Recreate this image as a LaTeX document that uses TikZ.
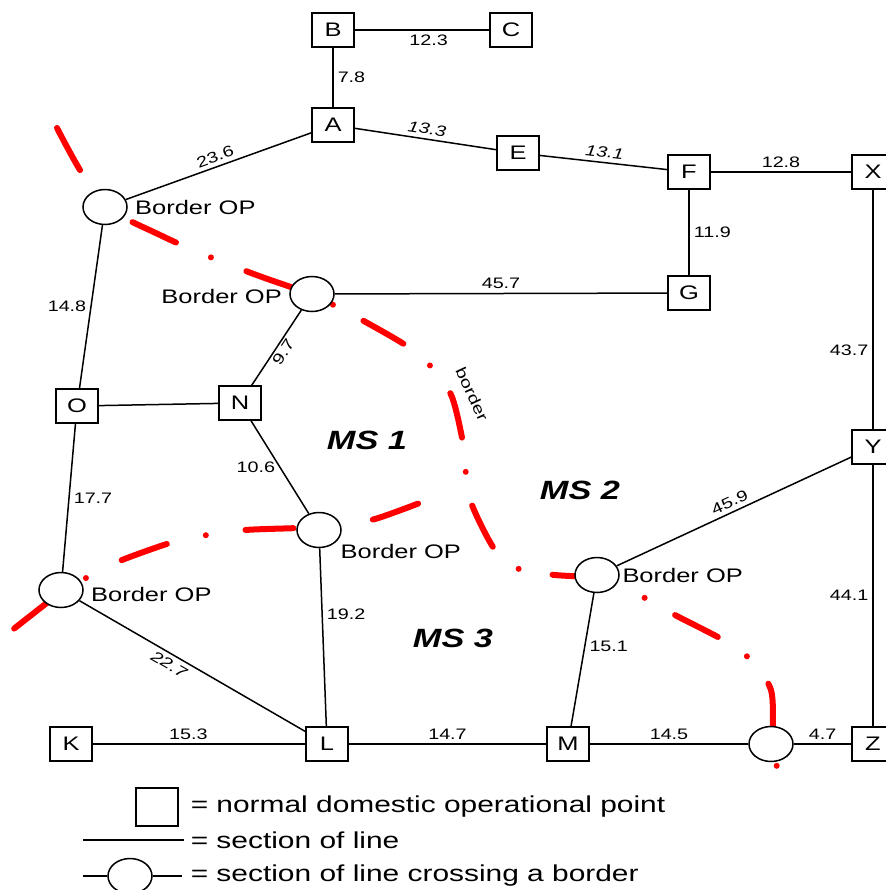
\documentclass[tikz,border=0pt]{standalone}
\usepackage{fontspec}
\setmainfont{Liberation Sans}[FakeStretch=1.3]
\usepackage{tikz}
\usetikzlibrary{shapes.geometric,backgrounds}
\definecolor{borderred}{RGB}{255,0,0}
\newcommand{\opfont}{\fontsize{9.8}{11}\selectfont}
\newcommand{\kmfont}{\fontsize{7.6}{9}\selectfont}
\newcommand{\msfont}{\fontsize{13.2}{15}\selectfont\bfseries\itshape}
\newcommand{\legfont}{\fontsize{11.5}{14}\selectfont}

\begin{document}
\begin{tikzpicture}[
  x=0.5pt,y=-0.5pt,
  line width=0.75pt,
  op/.style={draw,fill=white,minimum width=21pt,minimum height=17pt,
    inner sep=0pt,font=\opfont},
  bop/.style={draw,ellipse,fill=white,minimum width=22pt,minimum height=17.5pt,
    inner sep=0pt},
  km/.style={font=\kmfont,inner sep=2pt},
  kmit/.style={font=\kmfont\itshape,inner sep=2pt},
  ms/.style={font=\msfont},
  legtxt/.style={font=\legfont,anchor=west,inner sep=0pt},
  borderline/.style={borderred,line width=3pt,line cap=round},
  every label/.append style={font=\opfont},
]
  \useasboundingbox (0,0) rectangle (885,890);

  \node[op] (B) at (333,30) {B};
  \node[op] (C) at (511,30) {C};
  \node[op] (A) at (333,125) {A};
  \node[op] (E) at (518,153) {E};
  \node[op] (F) at (689,172) {F};
  \node[op] (X) at (873,172) {X};
  \node[op] (G) at (689,293) {G};
  \node[op] (O) at (77,406) {O};
  \node[op] (N) at (240,403) {N};
  \node[op] (Y) at (873,447) {Y};
  \node[op] (K) at (71,744) {K};
  \node[op] (L) at (327,744) {L};
  \node[op] (M) at (568,744) {M};
  \node[op] (Z) at (873,744) {Z};

  \node[bop,label={right:Border OP}] (bop1) at (105,207) {};
  \node[bop,label={[yshift=-1pt]left:Border OP}] (bop2) at (312,294) {};
  \node[bop,label={[yshift=3.5pt]below right:Border OP}] (bop3) at (319,530) {};
  \node[bop,label={[yshift=-2pt]right:Border OP}] (bop4) at (61,590) {};
  \node[bop,label={[inner sep=1pt]right:Border OP}] (bop5) at (597,575) {};
  \node[bop] (bop6) at (771,744) {};

  \draw (B) -- node[km,below,pos=.55]{12.3} (C);
  \draw (B) -- node[km,right]{7.8} (A);
  \draw (A) -- node[kmit,above,sloped]{13.3} (E);
  \draw (E) -- node[kmit,above,sloped]{13.1} (F);
  \draw (F) -- node[km,above]{12.8} (X);
  \draw (F) -- node[km,right]{11.9} (G);
  \draw (bop1) -- node[km,above,sloped]{23.6} (A);
  \draw (bop2) -- node[km,above]{45.7} (G);
  \draw (bop1) -- node[km,left]{14.8} (O);
  \draw (bop2) -- node[km,below,sloped,inner sep=1pt]{9.7} (N);
  \draw (O) -- (N);
  \draw (X) -- node[km,left,pos=.67]{43.7} (Y);
  \draw (O) -- node[km,right]{17.7} (bop4);
  \draw (N) -- node[km,left]{10.6} (bop3);
  \draw (bop3) -- node[km,right,pos=.37]{19.2} (L);
  \draw (bop4) -- node[kmit,below,sloped,pos=.42]{22.7} (L);
  \draw (K) -- node[km,above,pos=.45]{15.3} (L);
  \draw (L) -- node[km,above]{14.7} (M);
  \draw (M) -- node[km,above]{14.5} (bop6);
  \draw (bop6) -- node[km,above]{4.7} (Z);
  \draw (Y) -- node[km,left]{44.1} (Z);
  \draw (bop5) -- node[km,above,sloped]{45.9} (Y);
  \draw (bop5) -- node[km,right,pos=.4]{15.1} (M);

  \begin{scope}[on background layer]
    % border MS 1 / MS 2
    \draw[borderline,dash pattern=on 24pt off 19pt on 0pt off 19pt]
      plot[smooth,tension=.6] coordinates {
      (57,128) (80,170) (105,206) (160,235) (210,257) (262,277) (312,294)};
    \draw[borderline,dash pattern=on 23pt off 17.25pt on 0pt off 17.25pt,
      dash phase=28.5pt]
      plot[smooth,tension=.5] coordinates {
      (312,294) (362,320) (410,348) (434,370) (452,397) (463,443) (466,474)
      (472,505) (495,550) (519,569) (555,575) (597,577)};
    \draw[borderline,dash pattern=on 24pt off 17.5pt on 0pt off 17.5pt,
      dash phase=15.5pt]
      plot[smooth,tension=.5] coordinates {
      (597,577) (645,598) (675,615) (725,641) (753,662) (771,690) (773,727)
      (774,745) (777,768)};
    % border MS 3
    \draw[borderline,dash pattern=on 24pt off 20pt on 0pt off 20pt,
      dash phase=62pt]
      plot[smooth,tension=.5] coordinates {
      (11,631) (48,602) (61,592) (86,578) (117,562) (170,543) (207,535)
      (245,530) (298,528) (335,526) (375,519) (430,499)};
  \end{scope}

  \node[ms] (ms1) at (367,440) {MS 1};
  \node[ms] (ms2) at (580,490) {MS 2};
  \node[ms] (ms3) at (453,638) {MS 3};
  \node[km,rotate=-65] (bordertxt) at (472,394) {border};

  \node[op,minimum height=19pt] (legop) at (157,807) {};
  \node[legtxt] (legoptxt) at (190,807) {= normal domestic operational point};
  \coordinate (legl1) at (83,840);
  \coordinate (legl2) at (184,840);
  \draw (legl1) -- (legl2);
  \node[legtxt] (leglinetxt) at (190,840) {= section of line};
  \coordinate (legb1) at (83,876);
  \node[bop] (legbop) at (130,876) {};
  \coordinate (legb2) at (182,876);
  \draw (legb1) -- (legbop) -- (legb2);
  \node[legtxt] (legboptxt) at (190,876) {= section of line crossing a border};
\end{tikzpicture}
\end{document}
